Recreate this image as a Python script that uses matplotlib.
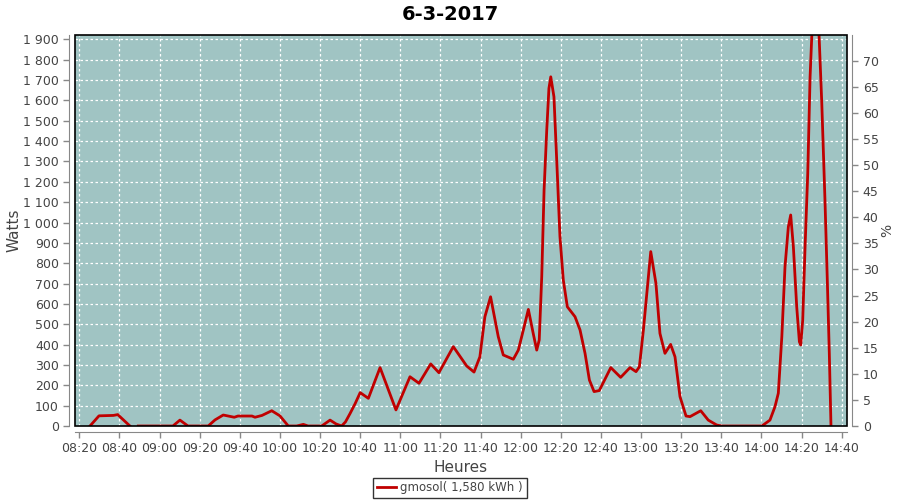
import numpy as np
import pandas as pd
import matplotlib
matplotlib.use("Agg")
import matplotlib.pyplot as plt
import matplotlib.dates as mdates
from matplotlib.patches import Rectangle
from matplotlib.ticker import FuncFormatter, MultipleLocator

plt.rcParams['font.family'] = ['DejaVu Sans']

day = "2017-03-06 "
heures = ["08:25:20", "08:29:50", "08:37:00", "08:39:10", "08:45:15",
          "08:47:00",
          "08:49:25", "09:06:40", "09:10:10", "09:14:10", "09:22:40",
          "09:24:15", "09:27:40", "09:31:45", "09:37:15", "09:39:05", "09:46:05",
          "09:47:35", "09:51:05", "09:55:55", "10:00:00", "10:04:10", "10:08:20",
          "10:11:40", "10:14:00", "10:20:50", "10:25:00", "10:28:00", "10:30:45",
          "10:32:40", "10:35:00", "10:37:30", "10:40:00", "10:44:05", "10:49:55",
          "10:57:50", "11:04:50", "11:09:20", "11:15:10", "11:19:15", "11:26:25",
          "11:33:05", "11:36:45", "11:39:40", "11:42:10", "11:45:00", "11:48:50",
          "11:51:20", "11:56:20", "11:58:50", "12:01:20", "12:03:50", "12:06:15",
          "12:08:00", "12:09:15", "12:10:30", "12:11:40", "12:13:00", "12:14:05",
          "12:15:00", "12:16:35", "12:18:15", "12:19:35", "12:21:15", "12:23:15",
          "12:27:05", "12:29:35", "12:32:05", "12:34:15", "12:36:35", "12:39:10",
          "12:44:55", "12:49:50", "12:54:30", "12:57:30", "12:59:10", "13:01:10",
          "13:04:50", "13:07:25", "13:09:25", "13:11:55", "13:14:45", "13:16:55",
          "13:19:25", "13:22:25", "13:24:25", "13:29:45", "13:33:30", "13:37:40",
          "13:40:10", "14:00:15", "14:00:55", "14:04:15", "14:06:45", "14:08:25",
          "14:10:10", "14:11:45", "14:13:25", "14:14:35", "14:15:55", "14:17:35",
          "14:18:55", "14:19:35", "14:20:35", "14:21:45", "14:23:05", "14:24:15",
          "14:25:05", "14:26:45", "14:28:45", "14:30:05", "14:31:40", "14:32:50",
          "14:33:50", "14:34:40"]
watts = [0, 50, 52, 56, 0,
         np.nan,
         0, 0, 29, 0, 0,
         0, 30, 54, 43, 49, 49,
         43, 52, 75, 50, 0, 0,
         8, 0, 0, 29, 10, 0,
         20, 62, 110, 164, 136, 287,
         79, 242, 210, 305, 262, 390,
         295, 265, 340, 537, 635, 439,
         349, 328, 373, 472, 573, 455,
         373, 423, 734, 1160, 1455, 1659,
         1716, 1618, 1241, 930, 717, 586,
         537, 472, 357, 226, 169, 174,
         287, 239, 287, 267, 291, 472,
         857, 701, 455, 357, 401, 340,
         144, 49, 46, 75, 29, 5,
         0, 0, 5, 29, 95, 161,
         439, 783, 979, 1037, 881, 586,
         414, 398, 521, 881, 1241, 1716,
         1913, 2150, 1913, 1586, 1111, 717,
         357, 0]

t = pd.to_datetime([day + h for h in heures])

fig = plt.figure(figsize=(9, 5), dpi=100)
ax = fig.add_axes([75 / 900, 1 - 426 / 500, (846.7 - 75) / 900, (426 - 35.3) / 500])
ax.set_facecolor('#A0C4C3')
ax.plot(t, watts, color='#C00000', lw=2, label='gmosol( 1,580 kWh )', zorder=3)

ax.set_xlim(pd.Timestamp(day + "08:17:52"), pd.Timestamp(day + "14:42:30"))
ax.set_ylim(0, 1920)
ax.xaxis.set_major_locator(mdates.MinuteLocator(byminute=[0, 20, 40]))
ax.xaxis.set_major_formatter(mdates.DateFormatter('%H:%M'))
ax.yaxis.set_major_locator(MultipleLocator(100))
ax.yaxis.set_major_formatter(FuncFormatter(lambda v, p: f"{int(v):,}".replace(",", " ")))
ax.grid(True, color='white', ls=(0, (2, 2)), lw=0.9)
ax.set_axisbelow(True)

ax2 = ax.twinx()
ax2.set_ylim(0, 74.86)
ax2.yaxis.set_major_locator(MultipleLocator(5))

for a in (ax, ax2):
    for s in a.spines.values():
        s.set_visible(False)
    a.tick_params(colors='#888888', labelcolor='#444444', labelsize=9, length=4, width=1)
for s in ('left', 'bottom'):
    ax.spines[s].set_visible(True)
    ax.spines[s].set_position(('outward', 4))
    ax.spines[s].set_color('#888888')
ax2.spines['right'].set_visible(True)
ax2.spines['right'].set_position(('outward', 4))
ax2.spines['right'].set_color('#888888')

ax.add_patch(Rectangle((0, 0), 1, 1, transform=ax.transAxes, fill=False,
                       edgecolor='black', lw=1.2, clip_on=False, zorder=5))

ax.set_ylabel('Watts', fontsize=11, color='#444444')
ax.yaxis.set_label_coords(-0.069, 0.5)
ax.set_xlabel('Heures', fontsize=11, color='#444444')
ax.xaxis.set_label_coords(0.5, -0.087)
ax2.set_ylabel('%', fontsize=10, color='#444444')
ax2.yaxis.set_label_coords(1.043, 0.5)
fig.text(0.5, 1 - 14 / 500, '6-3-2017', fontsize=14, fontweight='bold',
         ha='center', va='center')

leg = fig.legend(loc='center', bbox_to_anchor=(0.5, 1 - 488 / 500), fontsize=8.5,
                 frameon=True, fancybox=False, edgecolor='black', handlelength=1.6,
                 borderpad=0.3, handletextpad=0.4)
leg.get_frame().set_linewidth(1)
for txt in leg.get_texts():
    txt.set_color('#444444')

fig.savefig('out.png', dpi=100)
